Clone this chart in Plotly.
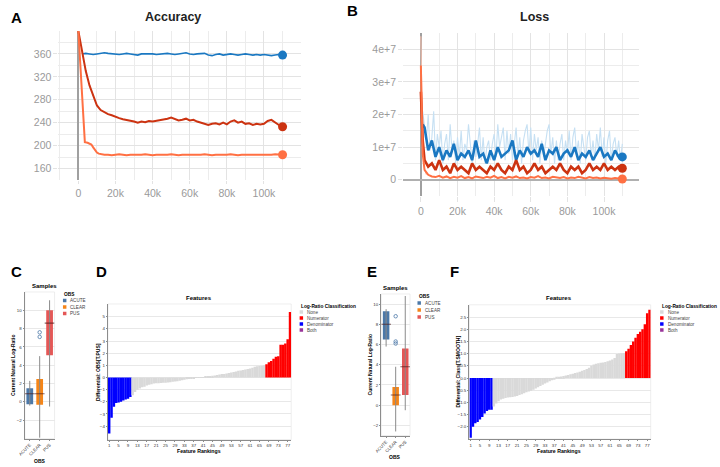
import plotly.graph_objects as go

W, H = 720, 467

# ---------------- Panel A : Accuracy ----------------
ACC_STEPS_K = [0, 2, 4, 6, 8, 10, 12, 14, 16, 18, 20, 22, 24, 26, 28, 30, 32, 34, 36, 38,
               40, 42, 44, 46, 48, 50, 52, 54, 56, 58, 60, 62, 64, 66, 68, 70, 72, 74, 76, 78,
               80, 82, 84, 86, 88, 90, 92, 94, 96, 98, 100, 102, 104, 106, 108, 110]
ACC_BLUE = [360, 361, 360, 359, 360, 361, 362, 361, 360, 360,
            359, 360, 361, 360, 359, 358, 360, 360, 361, 360,
            359, 360, 360, 361, 360, 359, 360, 361, 362, 360,
            359, 360, 360, 361, 358, 357, 359, 360, 358, 359,
            360, 359, 358, 359, 360, 359, 358, 359, 358, 359,
            358, 357, 358, 359, 358]          # steps 2k..110k
ACC_RED = [400, 362, 330, 305, 287, 270, 262, 258, 255, 253,
           250, 248, 246, 245, 244, 242, 240, 242, 241, 243,
           242, 243, 244, 245, 247, 249, 246, 244, 245, 247,
           244, 245, 242, 240, 237, 236, 238, 239, 237, 240,
           237, 242, 244, 240, 242, 238, 239, 236, 238, 237,
           238, 243, 245, 240, 236, 233]
ACC_ORANGE_STEPS_K = [0, 1, 2, 3, 3.5, 5, 6, 7, 8, 9, 10, 11, 12,
                      14, 16, 18, 20, 22, 24, 26, 28, 30, 32, 34, 36, 38, 40, 42, 44, 46, 48,
                      50, 52, 54, 56, 58, 60, 62, 64, 66, 68, 70, 72, 74, 76, 78, 80, 82, 84,
                      86, 88, 90, 92, 94, 96, 98, 100, 102, 104, 106, 108, 110]
ACC_ORANGE = [400, 340, 275, 222, 206, 205, 204, 202, 197, 192, 188, 186, 185,
              184, 184, 183, 184, 185, 184, 183, 184, 184, 183,
              184, 185, 184, 183, 184, 184, 183, 184, 185, 184,
              183, 184, 184, 183, 184, 183, 184, 185, 184, 183,
              184, 184, 183, 184, 185, 184, 183, 184, 184, 183,
              184, 183, 184, 184, 183, 184, 185, 184, 184]
STEP_TICKS_K = [0, 20, 40, 60, 80, 100]

# ---------------- Panel B : Loss (units of 1e6) ----------------
LOSS_RAW_STEPS_K = list(range(1, 111))
LOSS_BLUE_RAW = [21, 16, 12, 20, 9, 13, 21, 6, 14, 10,
                 15, 5, 11, 14, 6, 17, 9, 12, 5, 13,
                 7, 15, 6, 11, 9, 17, 10, 5, 12, 7,
                 11, 16, 6, 13, 5, 10, 12, 6, 11, 14,
                 7, 17, 10, 13, 16, 6, 15, 8, 14, 6,
                 12, 16, 7, 13, 5, 12, 15, 17, 8, 16,
                 6, 14, 9, 13, 5, 12, 7, 11, 15, 17,
                 8, 13, 5, 12, 6, 11, 14, 6, 12, 8,
                 15, 6, 13, 16, 8, 12, 5, 14, 9, 6,
                 13, 15, 7, 12, 6, 14, 9, 16, 7, 13,
                 5, 12, 15, 6, 11, 13, 7, 12, 6, 11]
LOSS_STEPS_K = [0, 1, 2, 4, 6, 8, 10, 12, 14, 16, 18, 20, 22, 24, 26, 28, 30, 32, 34, 36, 38,
                40, 42, 44, 46, 48, 50, 52, 54, 56, 58, 60, 62, 64, 66, 68, 70, 72, 74, 76, 78,
                80, 82, 84, 86, 88, 90, 92, 94, 96, 98, 100, 102, 104, 106, 108, 110]
LOSS_BLUE = [None, 17, 16, 9, 12, 7, 10, 6, 9, 7, 11,
             6, 8, 7, 9, 6, 12, 7, 8, 5, 9,
             6, 10, 7, 8, 9, 12, 6, 9, 7, 10,
             8, 9, 7, 11, 6, 9, 8, 10, 6, 8,
             9, 7, 10, 6, 8, 7, 9, 6, 8, 10,
             7, 8, 6, 9, 7, 7]
LOSS_RED = [27, 12, 6, 4, 5, 3, 6, 3, 4, 2, 5,
            3, 4, 3, 2, 5, 3, 4, 3, 2, 4,
            3, 5, 3, 2, 4, 3, 6, 3, 4, 2,
            3, 5, 3, 4, 2, 3, 4, 3, 5, 3,
            2, 4, 3, 4, 2, 3, 5, 3, 4, 3,
            5, 3, 4, 3, 4, 3.5]
LOSS_ORANGE = [35, 8, 3, 1.5, 1, 0.8, 1.2, 0.6, 1, 0.5,
               0.9, 0.6, 1.1, 0.5, 0.8, 0.4, 1.0, 0.7, 0.5, 0.9,
               0.6, 1.2, 0.5, 0.8, 0.4, 0.9, 0.6, 1.0, 0.5, 0.7,
               0.4, 0.8, 0.6, 1.1, 0.5, 0.7, 0.4, 0.9, 0.6, 0.5,
               0.8, 0.4, 0.7, 0.5, 0.9, 0.6, 0.4, 0.8, 0.5, 0.7,
               0.4, 0.6, 0.5, 0.3, 0.5, 0.4, 0.2]
LOSS_ORANGE_RAW_STEPS_K = [0, 1, 2, 3]
LOSS_ORANGE_RAW = [44, 10, 3, 1.5]

# ---------------- Panels C / E : Samples boxplots ----------------
OBS = ["ACUTE", "CLEAR", "PUS"]
OBS_COLORS = ["#4c78a8", "#f58518", "#e45756"]
C_LOW = [-0.4, -3.9, -0.5]
C_Q1 = [-0.25, -0.3, 5.1]
C_MED = [0.9, 0.9, 8.6]
C_Q3 = [1.5, 2.5, 10.0]
C_HIGH = [2.3, 5.0, 11.1]
C_OUT_X = ["CLEAR", "CLEAR"]
C_OUT_Y = [7.6, 7.1]

E_LOW = [5.8, -2.6, -0.5]
E_Q1 = [6.5, 0.0, 1.0]
E_MED = [8.0, 1.0, 3.8]
E_Q3 = [9.3, 1.8, 5.6]
E_HIGH = [9.5, 3.8, 10.8]
E_OUT_X = ["CLEAR", "CLEAR", "CLEAR"]
E_OUT_Y = [8.8, 6.3, 6.1]

# ---------------- Panels D / F : Features ----------------
CLASSES = ["None", "Numerator", "Denominator", "Both"]
CLASS_COLORS = ["#d9d9d9", "#ff0000", "#0000ff", "#993399"]
RANK_TICKS = [1, 5, 9, 13, 17, 21, 25, 29, 33, 37, 41, 45, 49, 53, 57, 61, 65, 69, 73, 77]

D_DENOM = [-4.6, -3.3, -2.4, -2.1, -2.05, -2.0, -1.9, -1.8, -1.75, -1.6]
D_NONE = [-1.45, -1.2, -1.0, -0.9, -0.8, -0.75, -0.65, -0.6, -0.55, -0.5,
          -0.48, -0.47, -0.45, -0.44, -0.42, -0.4, -0.38, -0.35, -0.32, -0.3,
          -0.27, -0.22, -0.18, -0.15, -0.12, -0.08, -0.05, -0.03, -0.01, 0.01,
          0.04, 0.07, 0.1, 0.12, 0.15, 0.17, 0.2, 0.24, 0.28, 0.3,
          0.33, 0.38, 0.42, 0.45, 0.5, 0.55, 0.58, 0.62, 0.66, 0.7,
          0.75, 0.8, 0.88, 0.92, 0.95, 0.97, 1.0]
D_NUM = [1.1, 1.25, 1.35, 1.55, 1.7, 1.75, 2.7, 2.7, 2.8, 3.15, 5.4]

F_DENOM = [-2.45, -2.0, -1.85, -1.8, -1.7, -1.6, -1.45, -1.35, -1.3, -1.3]
F_NONE = [-1.17, -1.05, -0.95, -0.88, -0.85, -0.82, -0.8, -0.79, -0.78, -0.76,
          -0.74, -0.7, -0.67, -0.62, -0.58, -0.55, -0.52, -0.48, -0.43, -0.38,
          -0.33, -0.28, -0.23, -0.18, -0.13, -0.09, -0.05, 0.02, 0.04, 0.06,
          0.08, 0.1, 0.12, 0.15, 0.17, 0.2, 0.23, 0.26, 0.3, 0.33,
          0.37, 0.42, 0.5, 0.55, 0.58, 0.6, 0.62, 0.64, 0.66, 0.69,
          0.72, 0.76, 0.82, 0.98, 1.0, 1.01, 1.02]
F_NUM = [1.1, 1.2, 1.35, 1.5, 1.65, 1.8, 1.9, 2.0, 2.2, 2.65, 2.8]

# ---------------- colours ----------------
TB_BLUE, TB_BLUE_LIGHT = "#1a78c2", "#c6e0f3"
TB_RED = "#cc3311"
TB_ORANGE, TB_ORANGE_LIGHT = "#ff7043", "#ffc2ad"

FONT = "Liberation Sans"


def dx(a, b):
    return [a / W, b / W]


def dy(top, bottom):
    return [1 - bottom / H, 1 - top / H]


fig = go.Figure()

# ---- A traces
kx = lambda arr: [v * 1000 for v in arr]
fig.add_trace(go.Scatter(x=kx(ACC_STEPS_K[1:]), y=ACC_BLUE, mode="lines",
                         line=dict(color=TB_BLUE, width=1.6), xaxis="x", yaxis="y"))
fig.add_trace(go.Scatter(x=kx(ACC_STEPS_K), y=ACC_RED, mode="lines",
                         line=dict(color=TB_RED, width=2), xaxis="x", yaxis="y"))
fig.add_trace(go.Scatter(x=kx(ACC_ORANGE_STEPS_K), y=ACC_ORANGE, mode="lines",
                         line=dict(color=TB_ORANGE, width=2), xaxis="x", yaxis="y"))
fig.add_trace(go.Scatter(x=kx([ACC_STEPS_K[-1]] * 3), y=[ACC_BLUE[-1], ACC_RED[-1], ACC_ORANGE[-1]],
                         mode="markers", marker=dict(size=9, color=[TB_BLUE, TB_RED, TB_ORANGE]),
                         xaxis="x", yaxis="y"))

# ---- B traces
m = lambda arr: [None if v is None else v * 1e6 for v in arr]
fig.add_trace(go.Scatter(x=kx(LOSS_RAW_STEPS_K), y=m(LOSS_BLUE_RAW), mode="lines",
                         line=dict(color=TB_BLUE_LIGHT, width=1.1), xaxis="x2", yaxis="y2"))
fig.add_trace(go.Scatter(x=kx(LOSS_ORANGE_RAW_STEPS_K), y=m(LOSS_ORANGE_RAW), mode="lines",
                         line=dict(color=TB_ORANGE_LIGHT, width=1), xaxis="x2", yaxis="y2"))
fig.add_trace(go.Scatter(x=kx(LOSS_STEPS_K), y=m(LOSS_BLUE), mode="lines",
                         line=dict(color=TB_BLUE, width=2.6), xaxis="x2", yaxis="y2"))
fig.add_trace(go.Scatter(x=kx(LOSS_STEPS_K), y=m(LOSS_RED), mode="lines",
                         line=dict(color=TB_RED, width=2.6), xaxis="x2", yaxis="y2"))
fig.add_trace(go.Scatter(x=kx(LOSS_STEPS_K), y=m(LOSS_ORANGE), mode="lines",
                         line=dict(color=TB_ORANGE, width=2), xaxis="x2", yaxis="y2"))
fig.add_trace(go.Scatter(x=kx([LOSS_STEPS_K[-1]] * 3),
                         y=m([LOSS_BLUE[-1], LOSS_RED[-1], LOSS_ORANGE[-1]]),
                         mode="markers", marker=dict(size=9, color=[TB_BLUE, TB_RED, TB_ORANGE]),
                         xaxis="x2", yaxis="y2"))


# ---- C / E boxplots
def add_box(low, q1, med, q3, high, outx, outy, xa, ya):
    for c, lo, hi in zip(OBS, low, high):
        fig.add_trace(go.Scatter(x=[c, c], y=[lo, hi], mode="lines",
                                 line=dict(color="#8a8a8a", width=1), xaxis=xa, yaxis=ya))
    fig.add_trace(go.Bar(x=OBS, y=[b - a for a, b in zip(q1, q3)], base=q1, width=0.68,
                         marker=dict(color=OBS_COLORS, line=dict(width=0)), xaxis=xa, yaxis=ya))
    fig.add_trace(go.Scatter(x=OBS, y=med, mode="markers",
                             marker=dict(symbol="line-ew", size=7, color="rgba(70,20,20,0.65)",
                                         line=dict(width=1.1, color="rgba(70,20,20,0.65)")),
                             xaxis=xa, yaxis=ya))
    fig.add_trace(go.Scatter(x=outx, y=outy, mode="markers",
                             marker=dict(symbol="circle-open", size=3.5, color=OBS_COLORS[0],
                                         line=dict(width=0.8, color=OBS_COLORS[0])),
                             xaxis=xa, yaxis=ya))


add_box(C_LOW, C_Q1, C_MED, C_Q3, C_HIGH, C_OUT_X, C_OUT_Y, "x3", "y3")
add_box(E_LOW, E_Q1, E_MED, E_Q3, E_HIGH, E_OUT_X, E_OUT_Y, "x5", "y5")


# ---- D / F features
def add_features(denom, none, num, xa, ya):
    n1, n2 = len(denom), len(none)
    groups = [(denom, 1, CLASS_COLORS[2]),
              (none, n1 + 1, CLASS_COLORS[0]),
              (num, n1 + n2 + 1, CLASS_COLORS[1])]
    for vals, start, col in groups:
        fig.add_trace(go.Bar(x=list(range(start, start + len(vals))), y=vals, width=1.06,
                             marker=dict(color=col, line=dict(width=0)),
                             xaxis=xa, yaxis=ya))
    return n1 + n2 + len(num)


nD = add_features(D_DENOM, D_NONE, D_NUM, "x4", "y4")
nF = add_features(F_DENOM, F_NONE, F_NUM, "x6", "y6")

# ---------------- layout ----------------
tb_font = dict(family=FONT, size=10.5, color="#9a9a9a")
tb_common = dict(showgrid=True, gridcolor="#e3e3e3", gridwidth=1, showline=False, tickfont=tb_font)

vg_font = dict(family=FONT, size=4.4, color="#333")
vg_common = dict(showline=True, linecolor="#8c8c8c", linewidth=0.6, ticks="outside", ticklen=1.5,
                 tickwidth=0.5, tickcolor="#8c8c8c", tickfont=vg_font, zeroline=False)

step_ticks = kx(STEP_TICKS_K)
layout = dict(
    width=W, height=H, margin=dict(l=0, r=0, t=0, b=0),
    paper_bgcolor="white", plot_bgcolor="white", showlegend=False, barmode="overlay",
    font=dict(family=FONT),
    # A
    xaxis=dict(domain=dx(52, 297), anchor="y", range=[-10700, 120000], tickvals=step_ticks,
               minor=dict(dtick=10000, showgrid=True, gridcolor="#ececec"),
               zeroline=True, zerolinecolor="#a0a0a0", zerolinewidth=2,
               ticks="outside", ticklen=3, tickcolor="#e3e3e3", **tb_common),
    yaxis=dict(domain=dy(31, 180), anchor="x", range=[140, 400], tickvals=[160, 200, 240, 280, 320, 360],
               minor=dict(dtick=20, showgrid=True, gridcolor="#ececec"), zeroline=False,
               ticks="outside", ticklen=4, tickcolor="#e3e3e3", **tb_common),
    # B
    xaxis2=dict(domain=dx(400, 638), anchor="y2", range=[-9700, 119000], tickvals=step_ticks,
                minor=dict(dtick=10000, showgrid=True, gridcolor="#ececec"),
                zeroline=True, zerolinecolor="#a0a0a0", zerolinewidth=2,
                ticks="outside", ticklen=5, tickcolor="#e3e3e3", **tb_common),
    yaxis2=dict(domain=dy(33, 196), anchor="x2", range=[-5e6, 45e6], tickvals=[0, 1e7, 2e7, 3e7, 4e7],
                exponentformat="e", minor=dict(dtick=5e6, showgrid=True, gridcolor="#ececec"),
                zeroline=True, zerolinecolor="#b0b0b0", zerolinewidth=1.5,
                ticks="outside", ticklen=4, tickcolor="#e3e3e3", **tb_common),
    # C
    xaxis3=dict(domain=dx(18, 48), anchor="y3", type="category", categoryarray=OBS,
                range=[-0.5, 2.5], tickangle=-45, showgrid=False, **vg_common),
    yaxis3=dict(domain=dy(292, 438.6), anchor="x3", range=[-4, 12], tickvals=[-2, 0, 2, 4, 6, 8, 10],
                showgrid=True, gridcolor="#e8e8e8", gridwidth=0.5, **vg_common),
    # D
    xaxis4=dict(domain=dx(102, 287), anchor="y4", range=[0.5, nD + 0.5], tickvals=RANK_TICKS,
                showgrid=False, **vg_common),
    yaxis4=dict(domain=dy(304, 439.5), anchor="x4", range=[-5.1, 6.05], tickvals=[-4, -3, -2, -1, 0, 1, 2, 3, 4, 5],
                showgrid=True, gridcolor="#e8e8e8", gridwidth=0.5, **vg_common),
    # E
    xaxis5=dict(domain=dx(378, 407), anchor="y5", type="category", categoryarray=OBS,
                range=[-0.5, 2.5], tickangle=-45, showgrid=False, **vg_common),
    yaxis5=dict(domain=dy(294, 435.5), anchor="x5", range=[-3, 11], tickvals=[-2, 0, 2, 4, 6, 8, 10],
                showgrid=True, gridcolor="#e8e8e8", gridwidth=0.5, **vg_common),
    # F
    xaxis6=dict(domain=dx(467, 650), anchor="y6", range=[0.5, nF + 0.5], tickvals=RANK_TICKS,
                showgrid=False, **vg_common),
    yaxis6=dict(domain=dy(304.8, 439), anchor="x6", range=[-2.5, 3.0],
                tickvals=[-2.0, -1.5, -1.0, -0.5, 0.0, 0.5, 1.0, 1.5, 2.0, 2.5], tickformat=".1f",
                showgrid=True, gridcolor="#e8e8e8", gridwidth=0.5, **vg_common),
)
fig.update_layout(**layout)

# frames around the vega panels
shapes = []
for ax in ["3", "4", "5", "6"]:
    shapes.append(dict(type="rect", xref=f"x{ax} domain", yref=f"y{ax} domain", x0=0, x1=1, y0=0, y1=1,
                       line=dict(color="#e2e2e2", width=0.6), layer="below"))

annotations = []


def text(x, y, s, size, bold=False, color="#000", angle=0, xanchor="center"):
    annotations.append(dict(x=x / W, y=1 - y / H, xref="paper", yref="paper", text=f"<b>{s}</b>" if bold else s,
                            showarrow=False, textangle=angle, xanchor=xanchor, yanchor="middle",
                            font=dict(family=FONT, size=size, color=color)))


# panel letters
for letter, x, y in [("A", 10, 17), ("B", 349, 10), ("C", 10, 271), ("D", 95, 271), ("E", 369, 271), ("F", 452, 271)]:
    text(x, y, letter, 15, bold=True)

# titles
text(168, 17, "Accuracy", 12.5, bold=True, color="#222")
text(533, 17, "Loss", 12.5, bold=True, color="#222")
text(38, 286, "Samples", 6, bold=True)
text(392, 288, "Samples", 6, bold=True)
text(194, 298, "Features", 6, bold=True)
text(557, 298, "Features", 6, bold=True)

# axis titles
text(6, 365, "Current Natural Log-Ratio", 5, bold=True, angle=-90)
text(367, 365, "Current Natural Log-Ratio", 5, bold=True, angle=-90)
text(92, 372, "Differential: OBS[T.PUS]", 5, bold=True, angle=-90)
text(455, 372, "Differential: Class[T.SMOOTH]", 5, bold=True, angle=-90)
text(33, 461, "OBS", 5, bold=True)
text(392, 457, "OBS", 5, bold=True)
text(194, 451, "Feature Rankings", 5.2, bold=True)
text(557, 451, "Feature Rankings", 5.2, bold=True)


# legends
def legend(x, y, title, labels, colors, dyy):
    text(x, y, title, 4.8, bold=True, xanchor="left")
    for i, (lab, col) in enumerate(zip(labels, colors)):
        yy = y + (i + 1) * dyy
        shapes.append(dict(type="rect", xref="paper", yref="paper",
                           x0=(x + 0.5) / W, x1=(x + 4) / W, y0=1 - (yy + 1.75) / H, y1=1 - (yy - 1.75) / H,
                           line=dict(width=0), fillcolor=col))
        text(x + 6, yy, lab, 4.6, color="#444", xanchor="left")


legend(56, 294, "OBS", OBS, OBS_COLORS, 6.5)
legend(414, 296, "OBS", OBS, OBS_COLORS, 7)
legend(295, 306, "Log-Ratio Classification", CLASSES, CLASS_COLORS, 6)
legend(659, 306, "Log-Ratio Classification", CLASSES, CLASS_COLORS, 6)

fig.update_layout(shapes=shapes, annotations=annotations)
fig.write_html("out.html", config={"displayModeBar": False},
               post_script="document.body.style.margin='0px';document.body.style.overflow='hidden';")
